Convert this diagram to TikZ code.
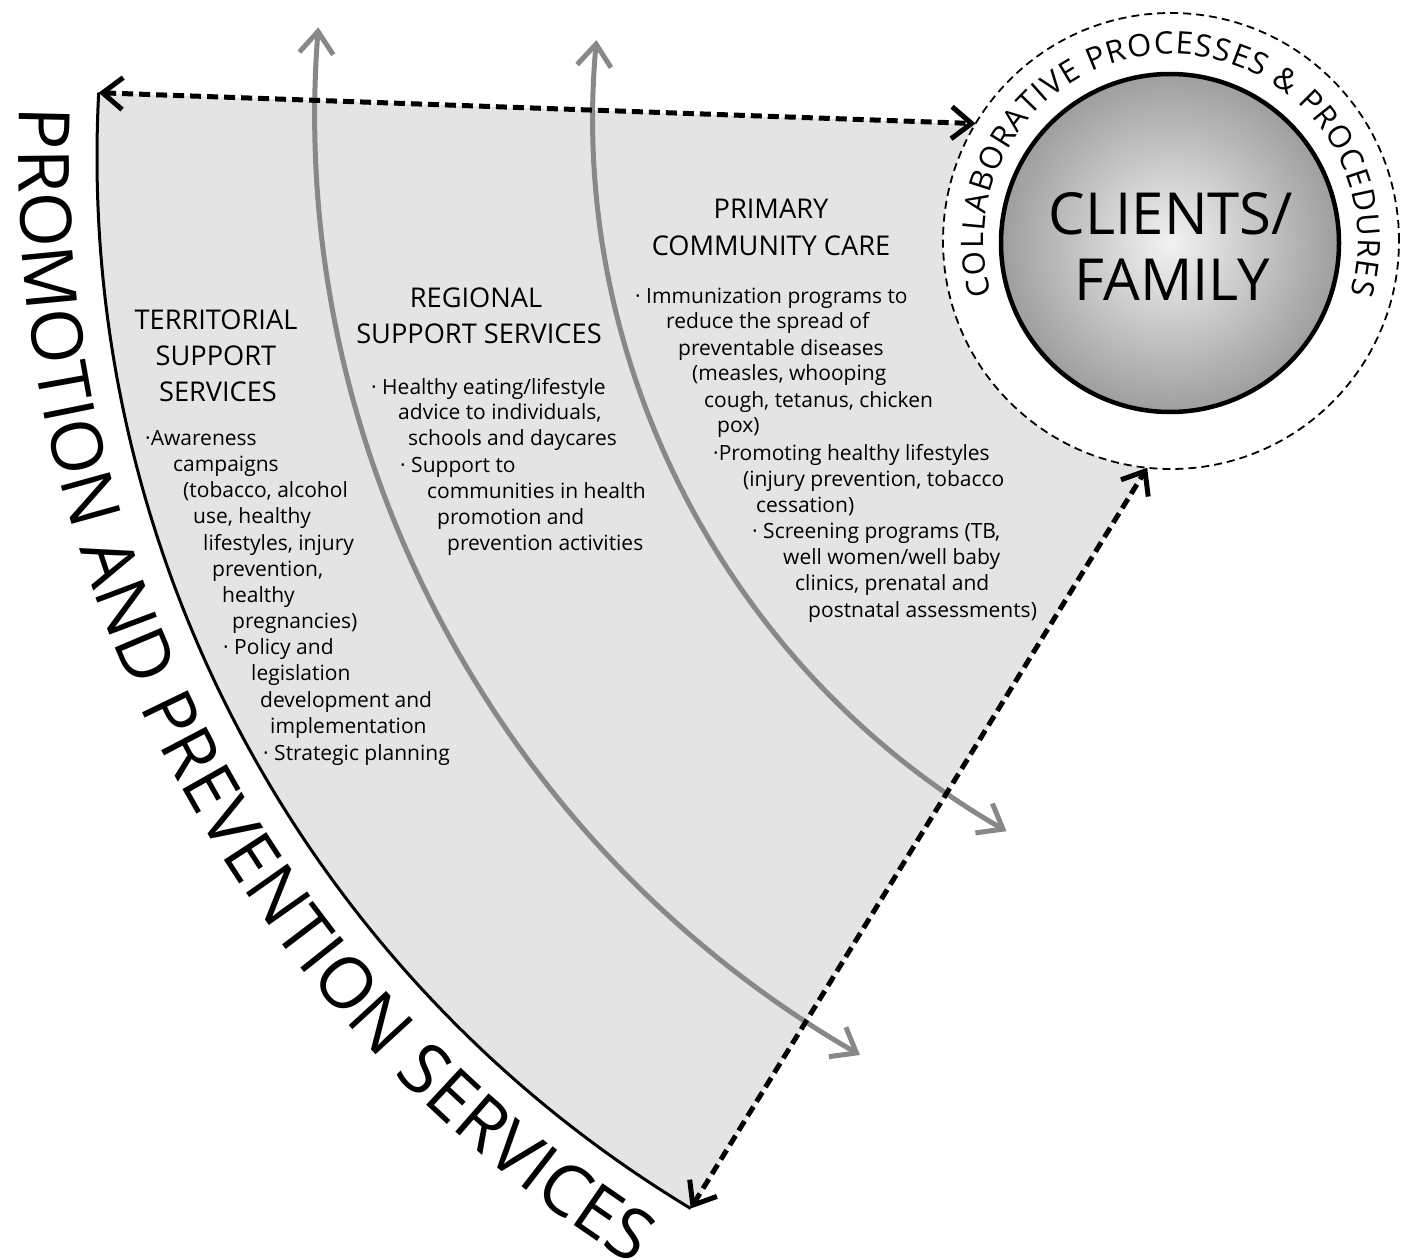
\documentclass[tikz,border=0pt]{standalone}
\usepackage{fontspec}
\setmainfont{Open Sans}
\usetikzlibrary{arrows.meta,calc,decorations.text}
\definecolor{sectorgray}{RGB}{228,228,228}
\definecolor{arcgray}{RGB}{136,136,136}
\tikzset{
	bodytext/.style={anchor=base west, inner sep=0pt, font=\fontsize{21}{26}\selectfont},
	headtext/.style={anchor=base, inner sep=0pt, font=\fontsize{27.2}{36}\selectfont},
	flowarc/.style={color=arcgray, line width=5pt, {Straight Barb[length=22pt,width=34pt]}-{Straight Barb[length=22pt,width=34pt]}},
	linkedge/.style={line width=5pt, dash pattern=on 11pt off 6pt, {Straight Barb[length=20pt,width=32pt]}-{Straight Barb[length=20pt,width=32pt]}},
}

\begin{document}
\begin{tikzpicture}[x=1pt,y=1pt]
	\useasboundingbox (0,0) rectangle (1411,-1260);

	\coordinate (apex) at (1325,-157);
	\coordinate (hub) at (1171,-241);
	\coordinate (ppTop) at ($(apex)+(177:1228)$);
	\coordinate (ppBot) at ($(apex)+(238.9:1228)$);

	% sector
	\fill[sectorgray] (ppTop) -- ($(hub)+(149.2:228)$) -- ($(hub)+(264:228)$) -- (ppBot) arc[start angle=238.9, end angle=177, radius=1228] -- cycle;
	\node (collab) [circle, draw, fill=white, line width=1.8pt, dash pattern=on 8pt off 5pt, minimum size=456, inner sep=0pt, outer sep=0pt] at (hub) {};

	% levels
	\draw[flowarc] ($(1405,-111)+(175.6:1090)$) arc[start angle=175.6, end angle=240, radius=1090];
	\draw[flowarc] ($(1420,-115)+(174.8:827)$) arc[start angle=174.8, end angle=240, radius=827];

	\draw[line width=3pt] (ppTop) arc[start angle=177, end angle=238.9, radius=1228];
	\draw[linkedge] (ppTop) -- (collab.149.2);
	\draw[linkedge] (ppBot) -- (collab.264);

	\node (client) [circle, draw, line width=4.5pt, minimum size=338, inner color=black!5, outer color=black!38] at (1170,-243) {};
	\node (clientA) [anchor=base, inner sep=0pt, font=\fontsize{58}{65}\selectfont] at (1171,-235) {CLIENTS/};
	\node (clientB) [anchor=base, inner sep=0pt, font=\fontsize{58}{65}\selectfont] at (1172,-300) {FAMILY};

	\path[decorate, decoration={text along path, text align={fit to path}, text={|\fontsize{71}{80}\selectfont|PROMOTION AND PREVENTION SERVICES}}] ($(apex)+(177.8:1306)$) arc[start angle=177.8, end angle=238, radius=1306];
	\path[decorate, decoration={text along path, text align={fit to path}, text={|\fontsize{31}{32}\selectfont|COLLABORATIVE PROCESSES {\&} PROCEDURES}}] ($(hub)+(196.6:187)$) arc[start angle=196.6, end angle=-16.3, radius=187];

	\node (terH1) [headtext] at (216,-329) {TERRITORIAL};
	\node (terH2) [headtext] at (216,-365) {SUPPORT};
	\node (terH3) [headtext] at (218,-401) {SERVICES};
	\node (ter1) [bodytext] at (145,-445) {·Awareness};
	\node (ter2) [bodytext] at (173,-471) {campaigns};
	\node (ter3) [bodytext] at (183,-497) {(tobacco, alcohol};
	\node (ter4) [bodytext] at (193,-523) {use, healthy};
	\node (ter5) [bodytext] at (203,-550) {lifestyles, injury};
	\node (ter6) [bodytext] at (212,-576) {prevention,};
	\node (ter7) [bodytext] at (222,-602) {healthy};
	\node (ter8) [bodytext] at (232,-628) {pregnancies)};
	\node (ter9) [bodytext] at (223,-654) {· Policy and};
	\node (ter10) [bodytext] at (251,-680) {legislation};
	\node (ter11) [bodytext] at (260,-707) {development and};
	\node (ter12) [bodytext] at (270,-733) {implementation};
	\node (ter13) [bodytext] at (263,-760) {· Strategic planning};

	\node (regH1) [headtext] at (476,-307) {REGIONAL};
	\node (regH2) [headtext] at (479,-343) {SUPPORT SERVICES};
	\node (reg1) [bodytext] at (371,-394) {· Healthy eating/lifestyle};
	\node (reg2) [bodytext] at (398,-419) {advice to individuals,};
	\node (reg3) [bodytext] at (408,-445) {schools and daycares};
	\node (reg4) [bodytext] at (400,-472) {· Support to};
	\node (reg5) [bodytext] at (427,-498) {communities in health};
	\node (reg6) [bodytext] at (437,-524) {promotion and};
	\node (reg7) [bodytext] at (447,-550) {prevention activities};

	\node (priH1) [headtext] at (771,-219) {PRIMARY};
	\node (priH2) [headtext] at (771,-255) {COMMUNITY CARE};
	\node (pri1) [bodytext] at (635,-303) {· Immunization programs to};
	\node (pri2) [bodytext] at (666,-328) {reduce the spread of};
	\node (pri3) [bodytext] at (678,-355) {preventable diseases};
	\node (pri4) [bodytext] at (692,-380) {(measles, whooping};
	\node (pri5) [bodytext] at (704,-407) {cough, tetanus, chicken};
	\node (pri6) [bodytext] at (717,-432) {pox)};
	\node (pri7) [bodytext] at (713,-460) {·Promoting healthy lifestyles};
	\node (pri8) [bodytext] at (743,-486) {(injury prevention, tobacco};
	\node (pri9) [bodytext] at (756,-512) {cessation)};
	\node (pri10) [bodytext] at (752,-538) {· Screening programs (TB,};
	\node (pri11) [bodytext] at (783,-564) {well women/well baby};
	\node (pri12) [bodytext] at (795,-590) {clinics, prenatal and};
	\node (pri13) [bodytext] at (808,-617) {postnatal assessments)};
\end{tikzpicture}
\end{document}
